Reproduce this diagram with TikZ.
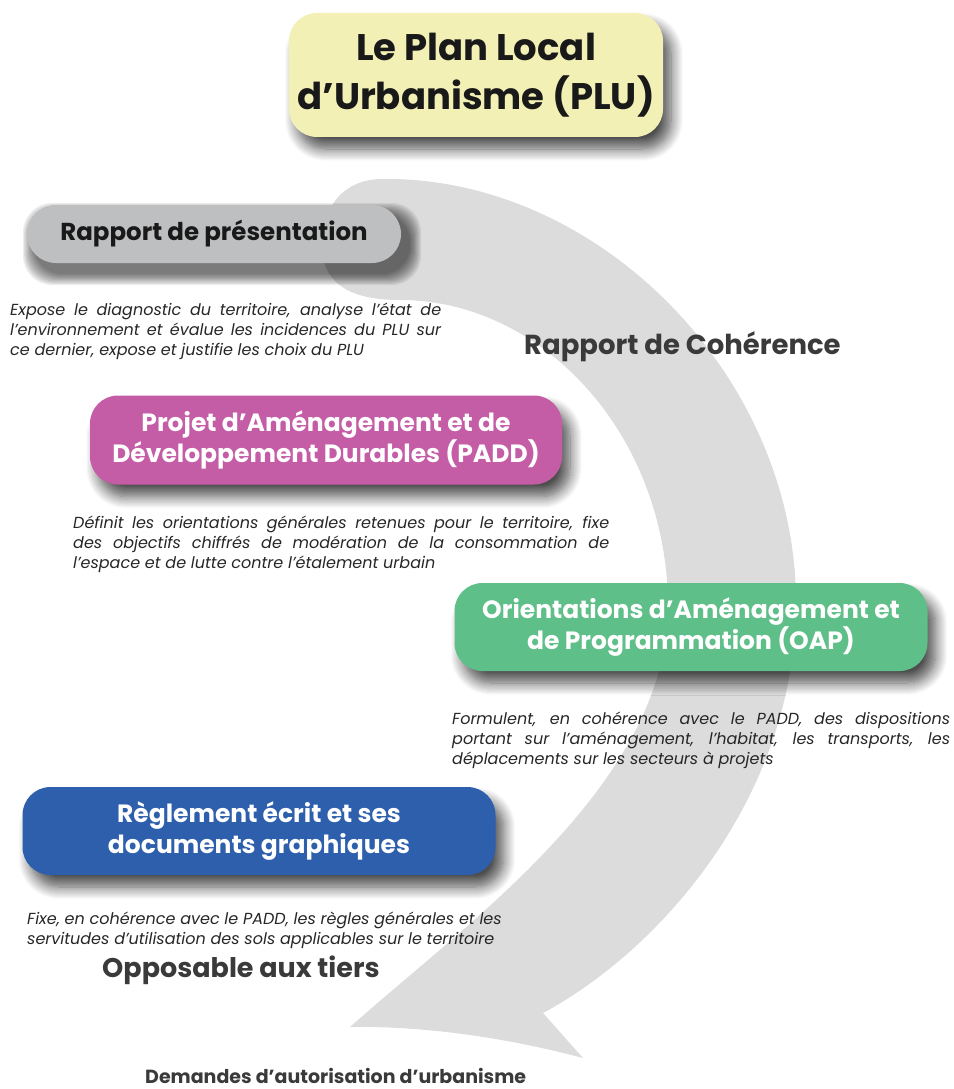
\documentclass[tikz,border=0pt]{standalone}
\usepackage{fontspec}
\setmainfont{Poppins}
\usetikzlibrary{shadows.blur}

\definecolor{arrowgray}{HTML}{DCDCDC}
\definecolor{pluyellow}{HTML}{F2F0B5}
\definecolor{rapgray}{HTML}{BEBFC1}
\definecolor{paddpink}{HTML}{C45CA6}
\definecolor{oapgreen}{HTML}{5FBF89}
\definecolor{reglblue}{HTML}{2E5FAC}
\definecolor{darktext}{HTML}{3A3A3A}

% one justified line of a description
\newcommand{\jline}[2]{\makebox[#1][s]{#2}}

\tikzset{
  docbox/.style={rounded corners=28pt, align=center, inner sep=0pt, text=white,
    minimum width=473pt, minimum height=88pt,
    font=\fontsize{25}{31}\selectfont\bfseries,
    blur shadow={shadow xshift=8pt, shadow yshift=-12pt, shadow blur radius=12pt,
      shadow blur steps=12, shadow opacity=70}},
  desc/.style={align=left, inner sep=0pt, text=black!85,
    font=\fontsize{16}{20}\selectfont\itshape},
  bigword/.style={inner sep=0pt, text=darktext, font=\fontsize{27.5}{30}\selectfont\bfseries}
}

\begin{document}
\begin{tikzpicture}[x=1pt,y=-1pt]
  \useasboundingbox (0,0) rectangle (953,1089);

  % the big curved arrow behind everything
  \fill[arrowgray] (380,179) .. controls (600,175) and (800,380) .. (796,610)
    .. controls (792,800) and (660,950) .. (543,1013)
    -- (583,1058)
    .. controls (500,1036) and (420,1026) .. (350,1027)
    .. controls (470,920) and (672,780) .. (668,600)
    .. controls (664,430) and (540,300) .. (400,300)
    .. controls (345,300) and (322,280) .. (322,245)
    .. controls (322,205) and (345,180) .. (380,179) -- cycle;

  \node[docbox, fill=pluyellow, text=black!90, minimum width=374pt, minimum height=124pt,
    font=\fontsize{37}{49}\selectfont\bfseries] (plu) at (476,75)
    {Le Plan Local\\d’Urbanisme (PLU)};

  % soft shadow of the pill-shaped box
  \foreach \i in {0,...,9}
    \fill[black, opacity=0.07, rounded corners=29pt]
      (23+1.2*\i, 203+1.2*\i) rectangle (421-1.2*\i, 285-1.2*\i);

  \node[fill=rapgray, text=black!90, rounded corners=29pt, inner sep=0pt,
    minimum width=374pt, minimum height=58pt,
    font=\fontsize{24.5}{26}\selectfont\bfseries] (rapport) at (214,234)
    {Rapport de présentation};

  \node[desc, anchor=north west] (rapportdesc) at (10,303)
    {\jline{431pt}{Expose le diagnostic du territoire, analyse l’état de}\\
     \jline{431pt}{l'environnement et évalue les incidences du PLU sur}\\
     ce dernier, expose et justifie les choix du PLU};

  \node[bigword, anchor=base west] (coherence) at (524,354) {Rapport de Cohérence};

  \node[docbox, fill=paddpink, minimum width=472pt, minimum height=89pt] (padd) at (326,440)
    {Projet d’Aménagement et de\\Développement Durables (PADD)};

  \node[desc, anchor=north west] (padddesc) at (73,516)
    {\jline{536pt}{Définit les orientations générales retenues pour le territoire, fixe}\\
     \jline{536pt}{des objectifs chiffrés de modération de la consommation de}\\
     l'espace et de lutte contre l'étalement urbain};

  \node[docbox, fill=oapgreen] (oap) at (691,627)
    {Orientations d’Aménagement et\\de Programmation (OAP)};

  \node[desc, anchor=north west] (oapdesc) at (452,712)
    {\jline{498pt}{Formulent, en cohérence avec le PADD, des dispositions}\\
     \jline{498pt}{portant sur l'aménagement, l'habitat, les transports, les}\\
     déplacements sur les secteurs à projets};

  \node[docbox, fill=reglblue] (regl) at (259,831)
    {Règlement écrit et ses\\documents graphiques};

  \node[desc, anchor=north west] (regldesc) at (27,912)
    {Fixe, en cohérence avec le PADD, les règles générales et les\\
     servitudes d'utilisation des sols applicables sur le territoire};

  \node[bigword, anchor=base west, font=\fontsize{27}{30}\selectfont\bfseries]
    (tiers) at (102,977) {Opposable aux tiers};

  \node[bigword, anchor=base west, font=\fontsize{19}{20}\selectfont\bfseries]
    (demandes) at (145,1083) {Demandes d’autorisation d’urbanisme};

\end{tikzpicture}
\end{document}
